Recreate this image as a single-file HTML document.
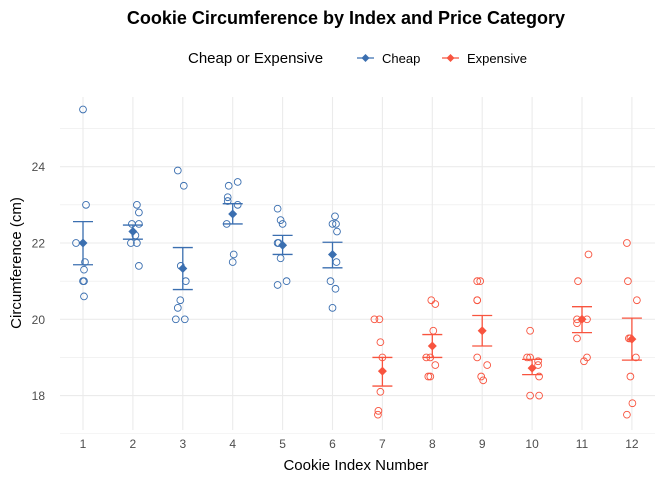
<!DOCTYPE html>
<html><head><meta charset="utf-8"><style>
body{margin:0;background:#fff;font-family:"Liberation Sans",Arial,sans-serif}
svg text{font-family:"Liberation Sans",Arial,sans-serif}
</style></head><body>
<svg id="c" width="672" height="480" xmlns="http://www.w3.org/2000/svg">
<text x="346" y="24" text-anchor="middle" font-size="18" font-weight="bold" fill="#000">Cookie Circumference by Index and Price Category</text>
<g>
<text x="188" y="63" font-size="15" fill="#000">Cheap or Expensive</text>
<g><line x1="357" y1="58" x2="374" y2="58" stroke="#3b6fb0" stroke-width="1.2"/><path d="M365.5 54 L369.5 58 L365.5 62 L361.5 58Z" fill="#3b6fb0"/><text x="382" y="63" font-size="13" fill="#000">Cheap</text></g>
<g><line x1="442" y1="58" x2="459" y2="58" stroke="#f8543f" stroke-width="1.2"/><path d="M450.5 54 L454.5 58 L450.5 62 L446.5 58Z" fill="#f8543f"/><text x="467" y="63" font-size="13" fill="#000">Expensive</text></g>
</g>
<g id="grid"></g>
<g id="marks"></g>
<g id="axes"></g>
<text x="356" y="470" text-anchor="middle" font-size="15" fill="#000">Cookie Index Number</text>
<text transform="translate(21,263) rotate(-90)" text-anchor="middle" font-size="15" fill="#000">Circumference (cm)</text>
</svg>
<script>
const categories=[1,2,3,4,5,6,7,8,9,10,11,12];
const groups=["Cheap","Cheap","Cheap","Cheap","Cheap","Cheap","Expensive","Expensive","Expensive","Expensive","Expensive","Expensive"];
const values=[
[25.5,23.0,22.0,21.5,21.3,21.0,21.0,20.6],
[23.0,22.8,22.5,22.5,22.0,22.0,21.4,22.2],
[23.9,23.5,21.4,21.0,20.5,20.3,20.0,20.0],
[23.6,23.5,23.2,23.1,23.0,22.5,21.7,21.5],
[22.9,22.6,22.5,22.0,22.0,21.6,21.0,20.9],
[22.7,22.5,22.5,22.3,21.5,21.0,20.8,20.3],
[20.0,20.0,19.4,19.0,18.1,17.6,17.5],
[20.5,20.4,19.7,19.0,19.0,18.8,18.5,18.5],
[21.0,21.0,20.5,20.5,19.0,18.8,18.5,18.4],
[19.7,19.0,19.0,18.9,18.8,18.5,18.0,18.0],
[21.7,21.0,20.0,20.0,19.9,19.5,19.0,18.9],
[22.0,21.0,20.5,19.5,19.5,19.0,18.5,17.8,17.5]];
const jitter=[
[0,0.06,-0.14,0.04,0.02,0.0,0.02,0.02],
[0.08,0.12,-0.02,0.12,-0.04,0.08,0.12,0.05],
[-0.1,0.02,-0.04,0.06,-0.05,-0.1,-0.14,0.04],
[0.1,-0.08,-0.1,-0.1,0.1,-0.12,0.02,0.0],
[-0.1,-0.04,0.0,-0.1,-0.08,-0.04,0.08,-0.1],
[0.05,0.0,0.07,0.09,0.08,-0.04,0.06,0.0],
[-0.16,-0.06,-0.04,0.0,-0.04,-0.08,-0.09],
[-0.02,0.06,0.02,-0.12,-0.04,0.06,-0.08,-0.04],
[-0.1,-0.04,-0.1,-0.1,-0.1,0.1,-0.02,0.02],
[-0.04,-0.1,-0.04,0.12,0.12,0.14,-0.04,0.14],
[0.13,-0.08,-0.1,0.1,-0.1,-0.1,0.1,0.04],
[-0.1,-0.08,0.1,-0.06,-0.03,0.08,-0.03,0.01,-0.1]];
const means=[22.0,22.3,21.33,22.76,21.94,21.7,18.64,19.3,19.7,18.72,20.0,19.48];
const upper=[22.56,22.47,21.88,23.03,22.2,22.02,19.0,19.6,20.1,18.95,20.33,20.03];
const lower=[21.43,22.1,20.78,22.5,21.7,21.35,18.25,19.0,19.3,18.55,19.65,18.93];
const yTicks=[18,20,22,24];
const colors={Cheap:"#3b6fb0",Expensive:"#f8543f"};
const X=v=>83+(v-1)*49.9, Y=v=>243-(v-22)*38.15;
const NS="http://www.w3.org/2000/svg";
function mk(t,a,p){const e=document.createElementNS(NS,t);for(const k in a)e.setAttribute(k,a[k]);p.appendChild(e);return e;}
const grid=document.getElementById('grid'),marks=document.getElementById('marks'),axes=document.getElementById('axes');
const L=60,R=655,T=97,B=430;
for(let v=17;v<=25;v+=1){const e=mk('line',{x1:L,x2:R,y1:Y(v),y2:Y(v),stroke:'#ebebeb','stroke-width':v%2==0?1.1:0.6},grid);

}
categories.forEach(c=>{const e=mk('line',{x1:X(c),x2:X(c),y1:T,y2:B,stroke:'#ebebeb','stroke-width':1.1},grid);


const t=mk('text',{x:X(c),y:448,'text-anchor':'middle','font-size':12,fill:'#4d4d4d'},axes);t.textContent=c;

});
yTicks.forEach(v=>{const t=mk('text',{x:45,y:Y(v)+4.5,'text-anchor':'end','font-size':12,fill:'#4d4d4d'},axes);t.textContent=v;

});
categories.forEach((c,i)=>{const col=colors[groups[i]];
values[i].forEach((v,j)=>{const p=mk('circle',{cx:X(c+jitter[i][j]),cy:Y(v),r:3.4,fill:'none',stroke:col,'stroke-width':0.9},marks);

});
const g=mk('g',{stroke:col,'stroke-width':1.3},marks);


mk('line',{x1:X(c),x2:X(c),y1:Y(upper[i]),y2:Y(lower[i])},g);
mk('line',{x1:X(c)-10,x2:X(c)+10,y1:Y(upper[i]),y2:Y(upper[i])},g);
mk('line',{x1:X(c)-10,x2:X(c)+10,y1:Y(lower[i]),y2:Y(lower[i])},g);
const x=X(c),y=Y(means[i]);
const d=mk('path',{d:`M${x} ${y-4.5}L${x+4.5} ${y}L${x} ${y+4.5}L${x-4.5} ${y}Z`,fill:col},marks);

});
</script>
</body></html>
